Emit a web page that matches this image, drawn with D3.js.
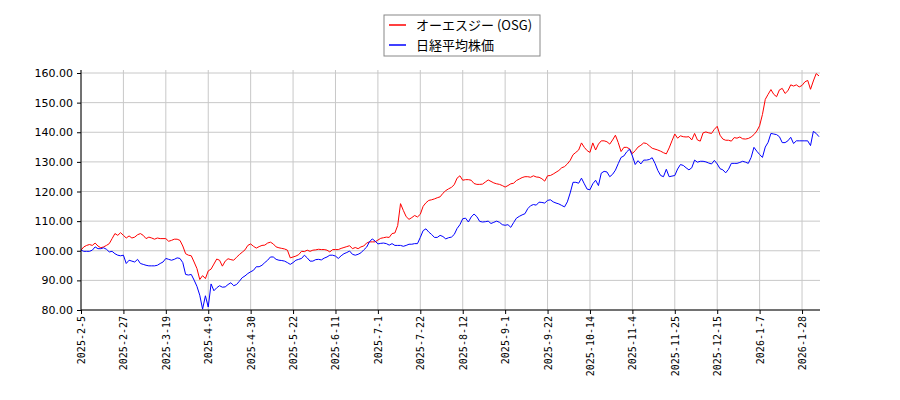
<!DOCTYPE html>
<meta charset="utf-8">
<title>OSG vs Nikkei</title>
<body style="margin:0;background:#fff">
<svg width=900 height=400></svg>
<script src="https://cdn.jsdelivr.net/npm/d3@7"></script>
<script>
    // tick labels every 15 trading days
    const dateLabels = ["2025-2-5","2025-2-27","2025-3-19","2025-4-9","2025-4-30","2025-5-22","2025-6-11","2025-7-1","2025-7-22","2025-8-12","2025-9-1","2025-9-22","2025-10-14","2025-11-4","2025-11-25","2025-12-15","2026-1-7","2026-1-28"];
    const yTicks = [80, 90, 100, 110, 120, 130, 140, 150, 160];
    const seriesNames = ["オーエスジー (OSG)", "日経平均株価"];
    const seriesColors = ["#ff0000", "#0000ff"];

    // both rebased to 100 at the first day
    const osg = [
        100.2,101.3,101.8,102.1,101.8,102.6,101.6,101.0,101.3,101.8,102.4,104.1,105.8,105.2,106.1,105.2,104.3,105.0,104.3,104.6,
        105.4,105.8,105.2,104.1,104.6,104.3,103.9,104.3,104.1,104.1,104.1,103.2,103.5,103.9,103.9,103.5,101.6,99.0,98.5,98.3,
        96.2,94.0,90.3,91.6,90.6,93.2,93.8,95.5,97.2,96.8,94.8,96.5,97.3,97.0,96.8,97.8,98.7,99.5,100.3,101.8,
        102.3,101.5,100.9,101.4,101.8,101.9,102.6,102.9,102.3,101.3,101.0,100.8,100.6,100.2,97.6,97.9,98.2,98.7,99.8,99.7,
        100.2,99.8,100.2,100.3,100.5,100.4,100.4,100.2,99.6,100.4,100.4,100.4,100.8,101.1,101.4,101.7,100.7,101.1,100.7,101.3,
        101.6,102.6,103.0,103.0,103.0,103.6,104.2,104.4,104.6,104.5,105.8,106.0,108.5,115.9,113.6,111.5,110.6,111.2,111.9,111.4,
        112.3,115.0,116.2,117.0,117.2,117.5,117.9,118.2,119.4,120.3,120.9,121.4,122.3,124.5,125.3,123.8,124.0,124.0,123.8,122.7,
        122.4,122.4,122.5,123.2,123.9,123.4,122.9,122.6,122.4,122.0,121.5,122.0,122.6,122.8,123.7,124.2,124.7,125.0,125.0,124.8,
        125.3,124.9,124.8,124.3,123.5,125.3,125.4,125.9,126.5,127.1,128.0,128.4,129.3,130.5,132.4,133.2,134.0,136.4,134.9,133.8,
        133.2,136.4,134.0,136.0,137.1,137.1,136.8,136.0,137.4,139.0,136.5,133.5,134.9,134.9,134.4,132.8,133.8,135.0,135.6,136.4,
        136.2,135.4,134.6,134.3,134.0,133.6,133.1,132.7,134.7,137.1,139.4,138.0,138.8,138.5,138.4,138.5,137.4,139.6,137.4,137.0,
        139.8,140.1,139.8,139.6,141.0,142.0,139.0,137.7,137.3,137.3,137.0,138.2,138.0,138.4,137.8,137.7,137.9,138.4,139.2,140.4,
        142.2,146.0,151.1,152.8,154.4,152.8,152.0,154.3,154.8,153.1,154.0,156.0,155.6,156.0,155.3,155.8,157.0,157.5,154.5,157.3,
        159.8,159.0
    ];
    const nikkei = [
        100.2,99.8,99.8,99.8,100.2,101.3,100.7,100.7,101.0,100.5,99.6,99.8,99.0,98.5,98.3,98.5,95.7,96.8,96.5,96.2,
        97.1,95.7,95.4,95.1,94.9,94.9,94.9,95.1,95.7,96.2,97.4,97.1,96.8,97.1,97.6,97.4,96.0,92.0,91.8,92.0,
        90.1,88.0,85.0,80.3,84.8,81.0,88.8,86.5,87.5,88.2,87.7,87.8,88.6,89.2,88.2,88.6,89.7,90.9,91.5,92.3,
        92.9,93.4,94.6,94.6,95.1,96.0,96.8,97.9,97.9,97.1,96.8,96.7,96.5,96.0,95.4,96.0,96.8,97.1,97.4,98.5,
        97.6,96.5,96.5,97.0,97.1,96.9,97.5,97.9,98.5,98.5,98.2,97.4,98.3,99.0,99.4,99.9,98.8,98.5,98.8,99.3,
        100.3,101.2,103.0,104.0,103.3,102.3,102.5,102.6,102.4,101.9,102.4,101.8,101.8,101.8,101.5,101.8,102.2,102.2,102.4,102.4,
        104.5,106.8,107.4,106.3,105.5,104.5,104.5,105.2,104.8,104.0,104.4,104.6,105.5,107.5,108.8,110.8,111.0,109.7,111.4,112.4,
        111.5,109.9,109.7,109.8,110.0,109.2,109.6,110.0,109.6,108.8,108.6,108.8,107.9,109.5,111.0,111.6,112.1,112.5,114.2,115.2,
        115.6,115.4,116.4,116.3,116.1,117.0,117.2,116.5,116.1,115.8,115.3,114.8,116.5,119.5,123.1,123.1,122.8,124.5,122.6,120.8,
        120.6,122.6,123.8,122.0,126.2,126.8,126.6,125.0,125.8,127.2,129.4,131.5,132.0,133.4,134.3,132.0,129.1,130.4,129.3,130.6,
        130.6,130.8,131.4,129.5,127.1,125.4,125.0,127.5,125.0,125.2,125.4,127.6,129.1,128.8,128.0,127.3,128.0,130.6,129.9,130.2,
        130.2,130.0,129.6,129.3,130.5,129.3,127.7,127.3,126.3,127.5,129.5,129.5,129.5,129.8,130.2,129.9,129.5,131.5,134.9,133.6,
        132.5,131.5,135.0,136.6,139.6,139.4,139.2,138.5,136.5,136.5,137.1,138.3,136.2,137.1,137.1,137.1,137.1,137.1,135.5,140.3,
        139.6,138.5
    ];

    const svg = d3.select('svg');
    const plotLeft = 81, plotRight = 819, plotTop = 70, plotBottom = 310;

    const x = d3.scaleLinear().domain([0, osg.length - 1]).range([plotLeft, plotRight]);
    const y = d3.scaleLinear().domain([80, 160]).range([plotBottom, 73]);

    // grid
    svg.append('g')
        .selectAll('line')
        .data(yTicks)
        .enter().append('line')
        .attr('x1', plotLeft).attr('x2', plotRight + 1)
        .attr('y1', d => y(d)).attr('y2', d => y(d))
        .attr('stroke', '#c8c8c8');
    svg.append('g')
        .selectAll('line')
        .data(dateLabels)
        .enter().append('line')
        .attr('x1', (d, i) => x(i * 15)).attr('x2', (d, i) => x(i * 15))
        .attr('y1', plotTop).attr('y2', plotBottom)
        .attr('stroke', '#c8c8c8');

    // lines
    const line = d3.line().x((d, i) => x(i)).y(d => y(d));
    [osg, nikkei].forEach((s, k) => {
        svg.append('path')
            .datum(s)
            .attr('fill', 'none')
            .attr('stroke', seriesColors[k])
            .attr('stroke-width', 1)
            .attr('d', line);
    });

    // y axis
    const yAxis = svg.append('g')
        .attr('transform', `translate(${plotLeft},0)`)
        .call(d3.axisLeft(y).tickValues(yTicks).tickFormat(d3.format('.2f')).tickSize(4).tickSizeOuter(0));
    yAxis.select('.domain').attr('d', `M0,${plotTop}V${plotBottom}`);
    yAxis.selectAll('text')
        .attr('x', -8)
        .style('font-family', 'DejaVu Sans')
        .style('font-size', '11px')
        .attr('fill', '#000');

    // x axis
    const xAxis = svg.append('g')
        .attr('transform', `translate(0,${plotBottom})`)
        .call(d3.axisBottom(x)
            .tickValues(dateLabels.map((d, i) => i * 15))
            .tickFormat((d, i) => dateLabels[i])
            .tickSize(4).tickSizeOuter(0));
    xAxis.select('.domain').attr('d', `M${plotLeft},0H${plotRight + 1}`);
    xAxis.selectAll('text')
        .attr('transform', 'rotate(-90)')
        .attr('text-anchor', 'end')
        .attr('x', -6)
        .attr('y', 0)
        .attr('dy', '0.35em')
        .style('font-family', 'DejaVu Sans Mono')
        .style('font-size', '10px')
        .attr('fill', '#000');

    // legend
    const lg = svg.append('g').attr('transform', 'translate(384,15)');
    lg.append('rect')
        .attr('width', 156).attr('height', 41)
        .attr('fill', '#fff').attr('stroke', '#888');
    seriesNames.forEach((n, k) => {
        lg.append('line')
            .attr('x1', 5).attr('x2', 22)
            .attr('y1', 10 + k * 20).attr('y2', 10 + k * 20)
            .attr('stroke', seriesColors[k]).attr('stroke-width', 1.5);
        lg.append('text')
            .attr('x', 32).attr('y', 10 + k * 20)
            .attr('dy', '0.35em')
            .style('font-family', '"Noto Sans CJK JP"')
            .style('font-size', '13px')
            .text(n);
    });
</script>
